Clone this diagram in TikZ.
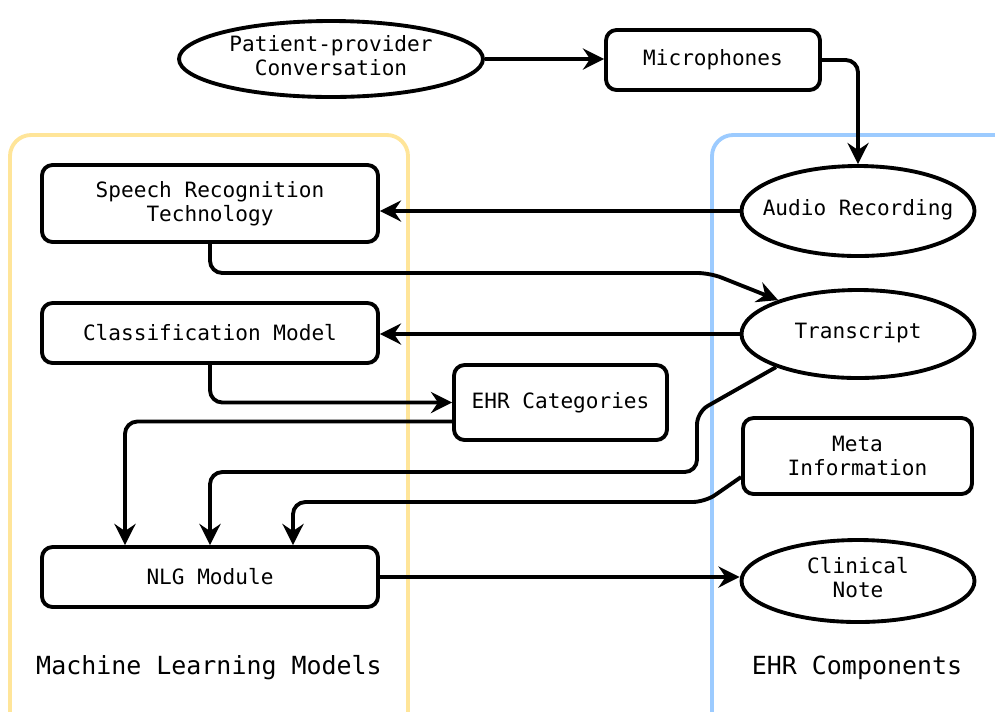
\documentclass[tikz,border=0pt]{standalone}
\usepackage{fontspec}
\setmonofont{DejaVu Sans Mono}
\usetikzlibrary{shapes.geometric,arrows.meta}
\newcommand{\ovaltext}[1]{\makebox[0pt]{\begin{tabular}{@{}c@{}}#1\end{tabular}}}

\begin{document}
\begin{tikzpicture}[
  font=\ttfamily\fontsize{12}{13.6}\selectfont,
  box/.style={draw,line width=2.2pt,rounded corners=6pt,align=center,fill=white},
  oval/.style={draw,ellipse,line width=2.2pt,fill=white,inner sep=0pt},
  arr/.style={line width=2.2pt,rounded corners=7pt,-{Stealth[length=12pt,width=12pt,inset=4pt]}},
  group/.style={line width=2.2pt,rounded corners=12pt},
  grouplabel/.style={font=\ttfamily\fontsize{14.2}{16}\selectfont}
]
\useasboundingbox (0,0) rectangle (19.9,-14.22);
\begin{scope}
\clip (0,0) rectangle (19.9,-14.22);
\draw [group,draw={rgb,255:red,255;green,229;blue,153}] (0.2,-2.7) rectangle (8.16,-14.8);
\draw [group,draw={rgb,255:red,156;green,203;blue,255}] (14.24,-2.7) rectangle (20.5,-14.8);
\end{scope}

\node [oval,minimum width=6.08cm,minimum height=1.52cm] (conv) at (6.62,-1.18) {\ovaltext{Patient-provider\\Conversation}};
\node [box,minimum width=4.28cm,minimum height=1.2cm] (mic) at (14.26,-1.2) {Microphones};
\node [oval,minimum width=4.66cm,minimum height=1.8cm] (audio) at (17.16,-4.22) {\ovaltext{Audio Recording}};
\node [box,minimum width=6.72cm,minimum height=1.54cm] (speech) at (4.2,-4.07) {Speech Recognition\\Technology};
\node [oval,minimum width=4.66cm,minimum height=1.76cm] (trans) at (17.16,-6.68) {\ovaltext{Transcript}};
\node [box,minimum width=6.72cm,minimum height=1.2cm] (classif) at (4.2,-6.66) {Classification Model};
\node [box,minimum width=4.26cm,minimum height=1.5cm] (ehrcat) at (11.21,-8.05) {EHR Categories};
\node [box,minimum width=4.58cm,minimum height=1.52cm] (meta) at (17.15,-9.12) {Meta\\Information};
\node [box,minimum width=6.72cm,minimum height=1.2cm] (nlg) at (4.2,-11.54) {NLG Module};
\node [oval,minimum width=4.66cm,minimum height=1.64cm] (note) at (17.16,-11.62) {\ovaltext{Clinical\\Note}};

\node [grouplabel] (mlm) at (4.18,-13.36) {Machine Learning Models};
\node [grouplabel] (ehrc) at (17.14,-13.36) {EHR Components};

\coordinate (tA) at (14.2,-5.46);
\coordinate (tB) at (13.94,-8.24);
\coordinate (tC) at (13.94,-9.44);
\coordinate (mA) at (14.1,-10.04);

\draw [arr] (conv.east) -- (mic.west |- conv.east);
\draw [arr] (mic.east) -| (audio.north);
\draw [arr] (audio.west) -- (speech.east |- audio.west);
\draw [arr] (speech.south) |- (tA) -- (trans.157);
\draw [arr] (trans.west) -- (classif.east |- trans.west);
\draw [arr] (classif.south) |- (ehrcat.west);
\draw [arr] ([yshift=-0.38cm]ehrcat.west) -| ([xshift=-1.7cm]nlg.north);
\draw [arr] (trans.202) -- (tB) -- (tC) -| (nlg.north);
\draw [arr] ([yshift=-0.42cm]meta.west) -- (mA) -| ([xshift=1.66cm]nlg.north);
\draw [arr] (nlg.east) -- (note.west |- nlg.east);
\end{tikzpicture}
\end{document}
